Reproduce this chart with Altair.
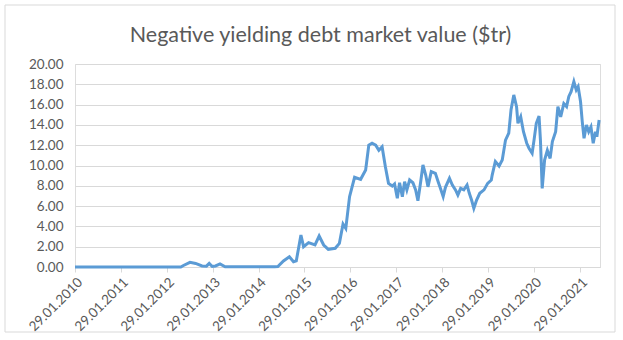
import altair as alt
import pandas as pd

dates = [
    "2010-01-29", "2012-05-20", "2012-06-10", "2012-08-01", "2012-09-15", "2012-11-05",
    "2012-12-10", "2013-01-01", "2013-01-25", "2013-02-20", "2013-03-28", "2013-05-08",
    "2014-06-05", "2014-07-01", "2014-08-15", "2014-10-01", "2014-11-03", "2014-11-25",
    "2015-01-01", "2015-01-22", "2015-03-03", "2015-04-23", "2015-05-26", "2015-07-01",
    "2015-08-07", "2015-10-01", "2015-11-03", "2015-12-02", "2015-12-24", "2016-01-23",
    "2016-03-03", "2016-04-20", "2016-05-30", "2016-06-24", "2016-07-20", "2016-08-18",
    "2016-09-12", "2016-10-08", "2016-11-03", "2016-11-28", "2016-12-28", "2017-01-15",
    "2017-02-06", "2017-02-24", "2017-03-18", "2017-04-05", "2017-04-23", "2017-05-15",
    "2017-06-10", "2017-07-02", "2017-07-20", "2017-08-11", "2017-08-29", "2017-09-20",
    "2017-10-08", "2017-11-03", "2017-12-06", "2017-12-28", "2018-01-15", "2018-02-06",
    "2018-02-24", "2018-03-28", "2018-04-20", "2018-05-15", "2018-06-03", "2018-06-25",
    "2018-07-20", "2018-08-15", "2018-09-02", "2018-09-20", "2018-10-08", "2018-10-30",
    "2018-11-24", "2018-12-28", "2019-01-26", "2019-02-24", "2019-03-03", "2019-03-28",
    "2019-04-27", "2019-05-22", "2019-06-17", "2019-07-13", "2019-07-31", "2019-08-22",
    "2019-09-13", "2019-09-24", "2019-10-16", "2019-11-07", "2019-12-03", "2019-12-21",
    "2020-01-15", "2020-01-30", "2020-02-17", "2020-03-10", "2020-03-21", "2020-04-04",
    "2020-04-23", "2020-05-15", "2020-06-06", "2020-06-24", "2020-07-20", "2020-08-07",
    "2020-08-29", "2020-09-23", "2020-10-15", "2020-11-02", "2020-11-20", "2020-12-12",
    "2020-12-31", "2021-01-15", "2021-02-03", "2021-02-17", "2021-03-03", "2021-03-22",
    "2021-04-09", "2021-04-27", "2021-05-15", "2021-06-02", "2021-06-13", "2021-07-01",
]

values = [
    0.0, 0.0, 0.15, 0.46, 0.35, 0.1,
    0.08, 0.35, 0.05, 0.1, 0.3, 0.02,
    0.02, 0.05, 0.6, 1.0, 0.52, 0.6,
    3.15, 2.0, 2.4, 2.17, 3.05, 2.17,
    1.74, 1.84, 2.33, 4.24, 3.8, 6.93,
    8.84, 8.64, 9.56, 12.0, 12.2, 12.0,
    11.5, 11.85, 9.88, 8.24, 7.98, 8.18,
    6.77, 8.3, 6.93, 8.4, 7.6, 8.57,
    8.3, 7.6, 6.53, 8.4, 10.05, 9.06,
    7.9, 9.4, 9.23, 8.4, 7.75, 6.93,
    7.85, 8.74, 8.08, 7.6, 7.1, 7.75,
    7.6, 8.08, 7.26, 6.6, 5.78, 6.6,
    7.26, 7.6, 8.24, 8.57, 9.06, 10.4,
    9.95, 10.54, 12.5, 13.2, 15.5, 16.95,
    15.8, 14.16, 14.8, 13.33, 12.19, 11.7,
    11.2, 12.5, 14.16, 14.87, 12.5, 7.75,
    10.54, 11.5, 10.7, 12.35, 13.33, 15.8,
    14.8, 16.1, 15.8, 16.8, 17.27, 18.26,
    17.44, 17.76, 16.3, 14.3, 12.68, 14.0,
    13.33, 13.8, 12.19, 13.33, 12.84, 14.48,
]

tick_years = list(range(2010, 2022))
y_ticks = [0, 2, 4, 6, 8, 10, 12, 14, 16, 18, 20]
title_text = "Negative yielding debt market value ($tr)"

df = pd.DataFrame({"date": dates, "value": values})

grey_text = "#595959"
font = "Lato"

line = alt.Chart(df).mark_line(color="#5b9bd5", strokeWidth=3).encode(
    x=alt.X(
        "date:T",
        title=None,
        scale=alt.Scale(
            type="utc",
            domain=[alt.DateTime(year=2010, month=1, date=29, utc=True),
                    alt.DateTime(year=2021, month=7, date=8, utc=True)],
            nice=False,
        ),
        axis=alt.Axis(
            values=[alt.DateTime(year=y, month=1, date=29, utc=True) for y in tick_years],
            labelExpr="utcFormat(datum.value, '%d.%m.%Y')",
            labelAngle=315,
            labelAlign="right",
            labelBaseline="top",
            labelPadding=3,
            labelFont=font,
            labelFontSize=13.5,
            labelColor=grey_text,
            domainColor="#d9d9d9",
            tickColor="#d9d9d9",
            tickSize=5,
            grid=False,
            labelOverlap=False,
        ),
    ),
    y=alt.Y(
        "value:Q",
        title=None,
        scale=alt.Scale(domain=[0, 20], nice=False),
        axis=alt.Axis(
            values=y_ticks,
            format=".2f",
            labelFont=font,
            labelFontSize=13.5,
            labelColor=grey_text,
            labelPadding=12,
            domain=False,
            ticks=False,
            gridColor="#d9d9d9",
            gridWidth=1,
        ),
    ),
)

frame = alt.Chart(pd.DataFrame({"k": [0]})).mark_rect(
    fill=None, stroke="#d9d9d9", strokeWidth=1
).encode(
    x=alt.value(-70), x2=alt.value(540), y=alt.value(-59), y2=alt.value(268)
)

chart = alt.layer(frame, line).properties(
    width=525,
    height=203,
    autosize=alt.AutoSizeParams(type="none"),
    padding={"left": 75, "top": 64, "right": 23, "bottom": 73},
    title=alt.TitleParams(
        text=title_text,
        font=font,
        fontSize=21.5,
        fontWeight="normal",
        color=grey_text,
        anchor="middle",
        frame="group",
        dx=-17,
        offset=-42,
    ),
).configure_view(stroke=None).configure(background="white")

chart.save("out.html", embed_options={"renderer": "svg", "actions": False})
